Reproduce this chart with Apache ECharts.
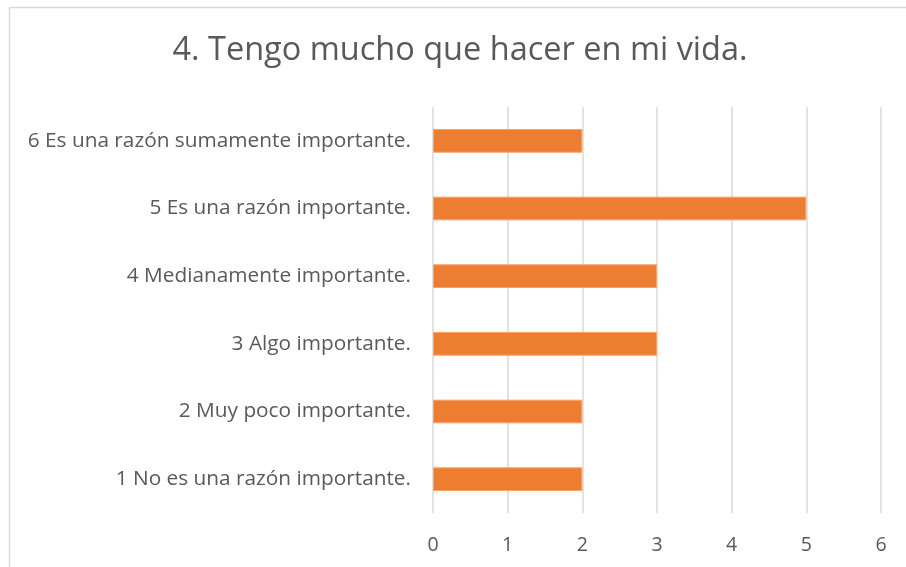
<!DOCTYPE html>
<html>
<head>
<meta charset="utf-8">
<script src="https://cdn.jsdelivr.net/npm/echarts@6/dist/echarts.min.js"></script>
<style>
  html, body { margin: 0; padding: 0; background: #fff; }
  #main { width: 906px; height: 567px; }
</style>
</head>
<body>
<div id="main"></div>
<script>
var titleText = '4. Tengo mucho que hacer en mi vida.';
var categories = [
  '1 No es una razón importante.',
  '2 Muy poco importante.',
  '3 Algo importante.',
  '4 Medianamente importante.',
  '5 Es una razón importante.',
  '6 Es una razón sumamente importante.'
];
var values = [2, 2, 3, 3, 5, 2];
var xTicks = [0, 1, 2, 3, 4, 5, 6];

var chart = echarts.init(document.getElementById('main'), null, { renderer: 'canvas' });

var option = {
  backgroundColor: '#ffffff',
  textStyle: { fontFamily: 'Open Sans' },
  title: {
    text: titleText,
    left: 455,
    top: 29,
    textAlign: 'center',
    textStyle: {
      fontFamily: 'Open Sans',
      fontSize: 32.5,
      fontWeight: 'normal',
      color: '#595959'
    }
  },
  graphic: [{
    type: 'rect',
    shape: { x: 9.5, y: 7.5, width: 1000, height: 1000 },
    style: { fill: 'none', stroke: '#d9d9d9', lineWidth: 1.5 },
    silent: true
  }],
  grid: {
    left: 433,
    right: 25,
    top: 107,
    bottom: 54,
    containLabel: false
  },
  xAxis: {
    type: 'value',
    min: xTicks[0],
    max: xTicks[xTicks.length - 1],
    interval: 1,
    axisLine: { show: false },
    axisTick: { show: false },
    axisLabel: {
      color: '#595959',
      fontSize: 19.5,
      margin: 22
    },
    splitLine: { show: true, lineStyle: { color: '#d9d9d9', width: 1.5 } }
  },
  yAxis: {
    type: 'category',
    data: categories,
    axisLine: { show: false },
    axisTick: { show: false },
    axisLabel: {
      color: '#595959',
      fontSize: 20.8,
      margin: 22
    },
    splitLine: { show: false }
  },
  series: [{
    type: 'bar',
    data: values,
    barWidth: '35%',
    itemStyle: {
      color: '#ED7D31',
      borderColor: '#F4A36C',
      borderWidth: 1
    },
    silent: true
  }]
};

chart.setOption(option);
</script>
</body>
</html>
